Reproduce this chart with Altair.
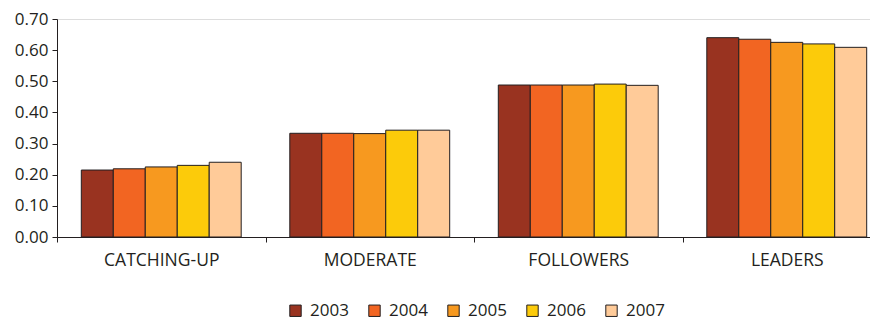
import altair as alt
import pandas as pd

# Categories, years and index values per group
groups = ["CATCHING-UP", "MODERATE", "FOLLOWERS", "LEADERS"]
years = ["2003", "2004", "2005", "2006", "2007"]
catching_up = [0.215, 0.219, 0.225, 0.230, 0.240]
moderate = [0.333, 0.333, 0.332, 0.343, 0.343]
followers = [0.488, 0.488, 0.488, 0.491, 0.487]
leaders = [0.640, 0.635, 0.625, 0.620, 0.609]
year_colors = ["#993320", "#F26522", "#F7991F", "#FCCB0A", "#FFCB99"]

series = {
    "CATCHING-UP": catching_up,
    "MODERATE": moderate,
    "FOLLOWERS": followers,
    "LEADERS": leaders,
}
rows = []
for g in groups:
    for y, v in zip(years, series[g]):
        rows.append({"group": g, "year": y, "value": v})
df = pd.DataFrame(rows)

INK = "#231F20"
FONT = "Open Sans"

chart = (
    alt.Chart(df)
    .mark_bar(stroke=INK, strokeWidth=1)
    .encode(
        x=alt.X(
            "group:N",
            sort=groups,
            title=None,
            scale=alt.Scale(range=[0, 834], paddingInner=0, paddingOuter=0),
            axis=alt.Axis(
                labelAngle=0,
                tickBand="extent",
                tickSize=5,
                labelPadding=9,
                labelFontSize=17.5,
                domainColor=INK,
                tickColor=INK,
                labelColor=INK,
                labelFont=FONT,
            ),
        ),
        xOffset=alt.XOffset(
            "year:N",
            sort=years,
            scale=alt.Scale(paddingInner=0, paddingOuter=0.76),
        ),
        y=alt.Y(
            "value:Q",
            title=None,
            scale=alt.Scale(domain=[0, 0.7], nice=False),
            axis=alt.Axis(
                values=[0, 0.1, 0.2, 0.3, 0.4, 0.5, 0.6, 0.7],
                format=".2f",
                grid=False,
                tickSize=5,
                labelPadding=4,
                labelFontSize=17,
                domainColor=INK,
                tickColor=INK,
                labelColor=INK,
                labelFont=FONT,
            ),
        ),
        color=alt.Color(
            "year:N",
            sort=years,
            scale=alt.Scale(domain=years, range=year_colors),
            legend=alt.Legend(
                title=None,
                orient="none",
                direction="horizontal",
                legendX=230,
                legendY=283,
                symbolType="square",
                symbolSize=130,
                symbolStrokeColor=INK,
                symbolStrokeWidth=1,
                symbolOpacity=1,
                labelFontSize=17,
                labelFont=FONT,
                labelColor=INK,
                labelOffset=6,
                columnPadding=17,
            ),
        ),
    )
    .properties(
        width=813,
        height=218,
        autosize=alt.AutoSizeParams(type="none"),
        padding={"left": 57, "top": 19, "right": 0, "bottom": 85},
    )
    .configure_view(stroke=None)
    .configure(background="white")
)

chart.save("out.html", embed_options={"renderer": "svg", "actions": False})
